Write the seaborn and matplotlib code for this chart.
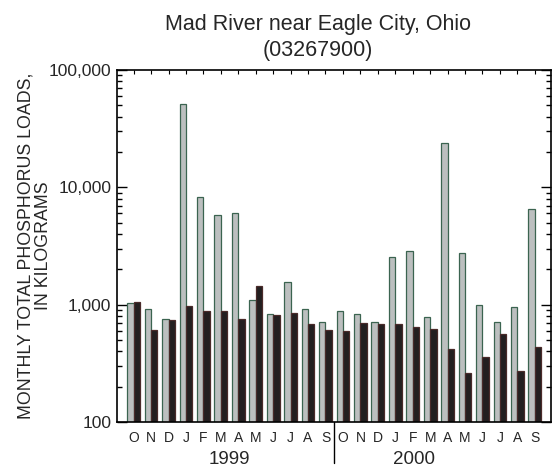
import matplotlib
matplotlib.use('Agg')
import matplotlib.pyplot as plt
import matplotlib.transforms as mtransforms
from matplotlib.ticker import FuncFormatter, NullFormatter
import seaborn as sns
import pandas as pd

# ── Data (kilograms) ──────────────────────────────────────────────────────
MONTHS = ['O', 'N', 'D', 'J', 'F', 'M', 'A', 'M', 'J', 'J', 'A', 'S']
YEARS = ['1999', '2000']
gray_1999 = [1030, 914, 759, 50900, 8220, 5790, 6020, 1097, 838, 1570, 914, 707]
black_1999 = [1055, 604, 744, 968, 878, 878, 755, 1445, 816, 844, 684, 604]
gray_2000 = [883, 828, 707, 2540, 2860, 780, 23800, 2780, 994, 707, 950, 6490]
black_2000 = [592, 693, 688, 684, 641, 620, 421, 264, 359, 558, 273, 435]

GRAY = '#bcbfbf'
BLACK = '#231f20'
GRAY_EDGE = '#3b6450'
BLACK_EDGE = '#4a2b2a'

slots = [f'{y}-{i:02d}' for y in YEARS for i in range(len(MONTHS))]
df = pd.DataFrame({
    'slot': slots * 2,
    'series': ['gray'] * 24 + ['black'] * 24,
    'load': gray_1999 + gray_2000 + black_1999 + black_2000,
})

# ── Figure ────────────────────────────────────────────────────────────────
sns.set_style('ticks')
plt.rcParams['font.family'] = ['Liberation Sans', 'DejaVu Sans']

fig = plt.figure(figsize=(5.53, 4.73), dpi=100)
ax = fig.add_axes([117 / 553, 1 - 422 / 473, 434 / 553, 352 / 473])

sns.barplot(data=df, x='slot', y='load', hue='series', order=slots,
            hue_order=['gray', 'black'], palette={'gray': GRAY, 'black': BLACK},
            width=0.73, saturation=1, legend=False, errorbar=None, ax=ax)
ax.set_yscale('log')

for cont, ec in zip(ax.containers, [GRAY_EDGE, BLACK_EDGE]):
    for bar in cont:
        bar.set_edgecolor(ec)
        bar.set_linewidth(0.9)

ax.set_ylim(100, 100000)
ax.set_xlim(-0.955, 23.93)
ax.yaxis.set_major_formatter(FuncFormatter(lambda v, p: f'{v:,.0f}'))
ax.yaxis.set_minor_formatter(NullFormatter())

for sp in ax.spines.values():
    sp.set_visible(True)
    sp.set_linewidth(1.2)
    sp.set_color('black')

ax.tick_params(axis='y', which='both', direction='in', left=True, right=True,
               labelsize=12.5, pad=4, color='black', width=1)
ax.tick_params(axis='y', which='major', length=7)
ax.tick_params(axis='y', which='minor', length=3.5)
ax.set_xticks(range(24))
ax.set_xticklabels(MONTHS * 2)
ax.tick_params(axis='x', bottom=False, top=True, direction='in', length=3,
               labelsize=10, pad=6.5, color='black')
ax.set_xlabel('')

ax.set_ylabel('MONTHLY TOTAL PHOSPHORUS LOADS,\nIN KILOGRAMS',
              fontsize=12.8, linespacing=1.0)
ax.yaxis.set_label_coords(-0.150, 0.5)

# year labels and divider under the axis
trans = mtransforms.blended_transform_factory(ax.transData, ax.transAxes)
ax.text(5.5, -0.1065, '1999', transform=trans, ha='center', va='center', fontsize=13.5)
ax.text(16.05, -0.1065, '2000', transform=trans, ha='center', va='center', fontsize=13.5)
ax.plot([11.5, 11.5], [0, -0.1165], transform=trans, color='black', lw=1, clip_on=False)

fig.text(318 / 553, 1 - 30 / 473, 'Mad River near Eagle City, Ohio',
         ha='center', va='baseline', fontsize=15.5)
fig.text(318 / 553, 1 - 56 / 473, '(03267900)',
         ha='center', va='baseline', fontsize=15.5)

fig.savefig('out.png', dpi=100)
